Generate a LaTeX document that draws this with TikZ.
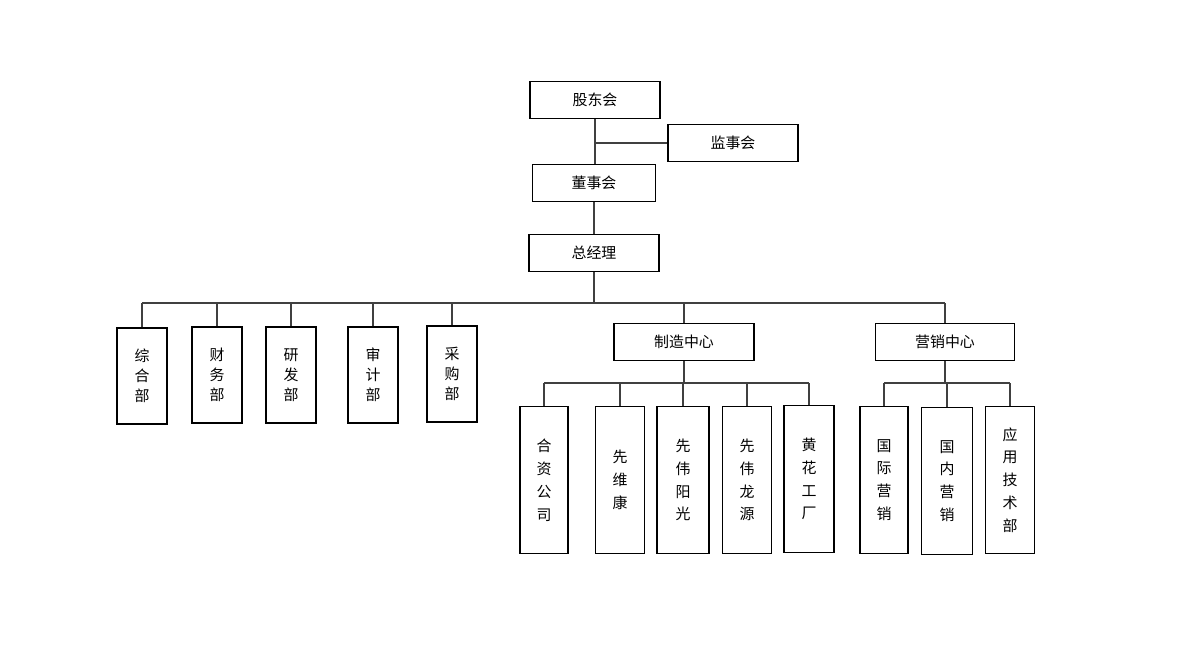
\documentclass[tikz,border=0pt]{standalone}
\usepackage{fontspec}
\newfontfamily\cjk{Noto Sans CJK SC}
\usepackage{tikz}

\begin{document}
\begin{tikzpicture}[x=0.02cm,y=-0.02cm,
  box/.style={draw,line width=0.8pt,inner sep=0pt,align=center,
    font=\cjk\fontsize{8.5}{11.5}\selectfont},
  hbox/.style={box,minimum width=2.6cm,minimum height=0.74cm},
  vbox/.style={box,minimum width=1cm,minimum height=1.92cm},
  tbox/.style={box,minimum width=1cm,minimum height=2.94cm,
    font=\cjk\fontsize{8.5}{13}\selectfont},
  link/.style={draw,line width=0.6pt,black!75}]
\useasboundingbox (0,0) rectangle (1200,650);
% top
\node[hbox] (gd) at (595,100) {股东会};
\node[hbox] (js) at (733,143) {监事会};
\node[hbox,minimum width=2.46cm] (ds) at (594,183) {董事会};
\node[hbox] (zj) at (594,253) {总经理};
\draw[link] (gd.south) -- (gd.south |- ds.north);
\draw[link] (js.west) -- (js.west -| gd.south);
\draw[link] (ds.south) -- (zj.north);
% departments
\node[vbox] (zh) at (142,376) {综\\合\\部};
\node[vbox] (cw) at (217,375) {财\\务\\部};
\node[vbox] (yf) at (291,375) {研\\发\\部};
\node[vbox] (sj) at (373,375) {审\\计\\部};
\node[vbox] (cg) at (452,374) {采\\购\\部};
\node[hbox,minimum width=2.8cm] (zz) at (684,342) {制造中心};
\node[hbox,minimum width=2.78cm] (yx) at (945,342) {营销中心};
\coordinate (bus) at (594,303);
\draw[link] (zj.south) -- (bus);
\draw[link] (zh.north |- bus) -- (yx.north |- bus);
\foreach \n in {zh,cw,yf,sj,cg,zz,yx}
  \draw[link] (\n.north) -- (\n.north |- bus);
% manufacturing
\node[tbox,minimum width=0.96cm] (hz) at (544,480) {合\\资\\公\\司};
\node[tbox,minimum width=0.98cm] (xw) at (620,480) {先\\维\\康};
\node[tbox,minimum width=1.04cm] (yg) at (683,480) {先\\伟\\阳\\光};
\node[tbox,minimum width=0.98cm] (ly) at (747,480) {先\\伟\\龙\\源};
\node[tbox] (hh) at (809,479) {黄\\花\\工\\厂};
\coordinate (zbus) at (684,383);
\draw[link] (zz.south) -- (zbus);
\draw[link] (hz.north |- zbus) -- (hh.north |- zbus);
\foreach \n in {hz,xw,yg,ly,hh}
  \draw[link] (\n.north) -- (\n.north |- zbus);
% marketing
\node[tbox,minimum width=0.96cm] (gj) at (884,480) {国\\际\\营\\销};
\node[tbox,minimum width=1.02cm] (gn) at (947,481) {国\\内\\营\\销};
\node[tbox,minimum width=0.98cm] (yy) at (1010,480) {应\\用\\技\\术\\部};
\coordinate (ybus) at (945,383);
\draw[link] (yx.south) -- (ybus);
\draw[link] (gj.north |- ybus) -- (yy.north |- ybus);
\foreach \n in {gj,gn,yy}
  \draw[link] (\n.north) -- (\n.north |- ybus);
\end{tikzpicture}
\end{document}
